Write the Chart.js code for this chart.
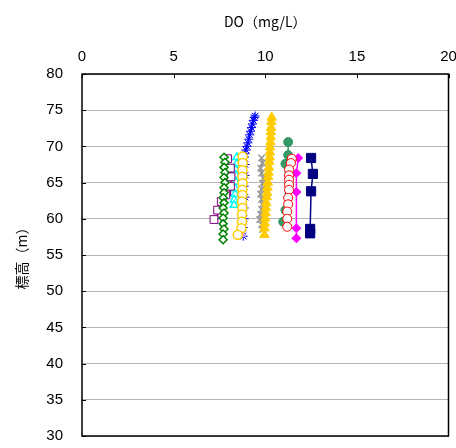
<!DOCTYPE html>
<html>
<head>
<meta charset="utf-8">
<script src="https://cdn.jsdelivr.net/npm/chart.js@4"></script>
<style>
  html, body { margin: 0; padding: 0; background: #fff; }
  #wrap { width: 456px; height: 448px; }
</style>
</head>
<body>
<div id="wrap"><canvas id="do-chart" width="456" height="448"></canvas></div>
<script>
// DO profiles (x = DO mg/L, y = elevation m), one pair of arrays per survey
const navyDO   = [12.5, 12.6, 12.5, 12.45, 12.45];
const navyEl   = [68.4, 66.2, 63.8, 58.6, 58.0];

const pinkDO   = [11.8, 11.7, 11.7, 11.7, 11.7];
const pinkEl   = [68.4, 66.3, 63.7, 58.7, 57.3];

const redDO    = [11.45, 11.4, 11.3, 11.3, 11.3, 11.3, 11.3, 11.25, 11.25, 11.2, 11.2, 11.2];
const redEl    = [68.3, 67.7, 66.8, 66.0, 65.4, 64.7, 64.0, 62.9, 62.0, 61.0, 60.0, 58.9];

const seaDO    = [11.25, 11.25, 11.1, 11.1, 10.98];
const seaEl    = [70.6, 68.8, 67.6, 61.2, 59.6];

const goldTriDO = [10.35, 10.33, 10.32, 10.3, 10.3, 10.28, 10.26, 10.25, 10.24, 10.22, 10.2, 10.18, 10.16,
                   10.14, 10.12, 10.1, 10.08, 10.05, 10.04, 10.02, 10.0, 9.98, 9.96, 9.95];
const goldTriEl = [74.0, 73.4, 72.6, 72.0, 71.3, 70.6, 69.9, 69.2, 68.5, 67.9, 67.1, 66.4, 65.8,
                   65.0, 64.3, 63.6, 63.0, 62.2, 61.5, 60.8, 60.1, 59.4, 58.7, 57.8];

const grayDO   = [9.8, 9.85, 9.75, 9.8, 9.9, 9.85, 9.8, 9.75, 9.8, 9.85, 9.8, 9.75, 9.7, 9.8, 9.85];
const grayEl   = [68.4, 67.7, 67.0, 66.3, 65.6, 64.9, 64.1, 63.4, 62.7, 62.0, 61.3, 60.6, 59.9, 59.2, 58.5];

const blueDO   = [9.45, 9.4, 9.35, 9.3, 9.25, 9.2, 9.15, 9.1, 9.05, 9.0, 8.95, 8.9, 8.85,
                  8.9, 8.9, 8.85, 8.9, 8.85, 8.85, 8.8, 8.8];
const blueEl   = [74.2, 74.0, 73.6, 73.1, 72.6, 72.1, 71.6, 71.0, 70.5, 70.0, 69.5, 69.0, 68.5,
                  67.5, 66.0, 64.5, 63.0, 61.5, 60.0, 58.8, 57.6];

const lilacDO  = [8.8, 8.8, 8.8];
const lilacEl  = [68.5, 63.0, 57.5];

const goldRingDO = [8.77, 8.77, 8.75, 8.75, 8.77, 8.75, 8.75, 8.73, 8.75, 8.73, 8.73, 8.7, 8.5];
const goldRingEl = [68.6, 67.7, 66.7, 65.8, 64.9, 64.0, 63.3, 62.4, 61.5, 60.6, 59.6, 58.7, 57.8];

const cyanDO   = [8.45, 8.45, 8.4, 8.4, 8.4, 8.35, 8.35, 8.3, 8.3];
const cyanEl   = [68.5, 67.6, 66.8, 66.0, 65.1, 64.2, 63.4, 62.6, 61.9];

const greenDO  = [7.75, 7.8, 7.75, 7.8, 7.75, 7.8, 7.75, 7.75, 7.7, 7.75, 7.7, 7.75, 7.7, 7.7, 7.75, 7.7, 7.7];
const greenEl  = [68.5, 67.8, 67.1, 66.4, 65.7, 65.0, 64.3, 63.6, 62.9, 62.2, 61.5, 60.8, 60.1, 59.3, 58.6, 57.9, 57.1];

const purpleDO = [7.95, 8.1, 8.13, 8.1, 7.85, 7.6, 7.4, 7.2];
const purpleEl = [68.3, 67.0, 65.8, 64.5, 63.3, 62.4, 61.2, 59.9];

// axis ranges and tick labels
const doTicks = [0, 5, 10, 15, 20];
const elTicks = [30, 35, 40, 45, 50, 55, 60, 65, 70, 75, 80];

const pts = (xs, ys) => xs.map((x, i) => ({ x: x, y: ys[i] }));

// first dataset ends up on top when drawn
function series(xs, ys, color, style, radius, opts = {}) {
    return Object.assign({
        data: pts(xs, ys),
        borderColor: color,
        backgroundColor: color,
        pointBorderColor: color,
        pointBackgroundColor: color,
        pointStyle: style,
        pointRadius: radius,
        pointBorderWidth: 1,
        borderWidth: 1.5,
        showLine: true,
        tension: 0
    }, opts);
}

const datasets = [
    series(redDO, redEl, '#FF0000', 'circle', 4.5, { pointBackgroundColor: '#fff' }),
    series(navyDO, navyEl, '#000080', 'rect', 6.5),
    series(pinkDO, pinkEl, '#FF00FF', 'rectRot', 4.5),
    series(seaDO, seaEl, '#339966', 'circle', 4.5),
    series(goldTriDO, goldTriEl, '#FFCC00', 'triangle', 5.5),
    series(grayDO, grayEl, '#969696', 'crossRot', 4.5, { pointBorderWidth: 1.5 }),
    series(goldRingDO, goldRingEl, '#FFCC00', 'circle', 4.5, { pointBackgroundColor: '#fff', pointBorderWidth: 1.5 }),
    series(lilacDO, lilacEl, '#CC99FF', 'circle', 0, { borderWidth: 4 }),
    series(blueDO, blueEl, '#0000FF', 'star', 4.5, { borderWidth: 1 }),
    series(greenDO, greenEl, '#008000', 'rectRot', 4, { pointBackgroundColor: '#fff', pointBorderWidth: 1.5 }),
    series(purpleDO, purpleEl, '#800080', 'rect', 5.5, { pointBackgroundColor: '#fff', stepped: 'after' }),
    series(cyanDO, cyanEl, '#00FFFF', 'triangle', 4.5, { pointBackgroundColor: '#fff', pointBorderWidth: 1.5 })
];

// plot frame plus short inward tick marks
const framePlugin = {
    id: 'frame',
    afterDraw(chart) {
        const { ctx, chartArea: a, scales } = chart;
        ctx.save();
        ctx.strokeStyle = '#000';
        ctx.lineWidth = 1.5;
        ctx.strokeRect(a.left, a.top, a.right - a.left, a.bottom - a.top);
        ctx.lineWidth = 1;
        ctx.beginPath();
        doTicks.forEach(v => {
            const px = Math.round(scales.x.getPixelForValue(v)) + 0.5;
            ctx.moveTo(px, a.top);
            ctx.lineTo(px, a.top + 4);
        });
        elTicks.forEach(v => {
            const py = Math.round(scales.y.getPixelForValue(v)) + 0.5;
            ctx.moveTo(a.left, py);
            ctx.lineTo(a.left + 4, py);
        });
        ctx.stroke();
        ctx.restore();
    }
};

const tickFont = { family: "'Liberation Sans', Arial, sans-serif", size: 15 };
const titleFont = { family: "'Noto Sans CJK JP', sans-serif", size: 14 };

new Chart(document.getElementById('do-chart'), {
    type: 'scatter',
    data: { datasets },
    plugins: [framePlugin],
    options: {
        responsive: false,
        animation: false,
        layout: { padding: { left: 0, top: 0, right: 6, bottom: 12 } },
        plugins: { legend: { display: false }, tooltip: { enabled: false } },
        scales: {
            x: {
                type: 'linear',
                position: 'top',
                min: 0,
                max: 20,
                grid: { display: false, drawTicks: false },
                border: { display: false },
                ticks: {
                    stepSize: 5,
                    color: '#000',
                    font: tickFont,
                    padding: 8,
                    maxRotation: 0
                },
                title: {
                    display: true,
                    text: 'DO（mg/L）',
                    color: '#000',
                    font: titleFont,
                    padding: { top: 13, bottom: 0 }
                },
                afterFit(scale) {
                    scale.height = 74;
                    scale.paddingLeft = 0;
                    scale.paddingRight = 0;
                }
            },
            y: {
                type: 'linear',
                position: 'left',
                min: 30,
                max: 80,
                grid: { color: '#B4B4B4', lineWidth: 1, drawTicks: false },
                border: { display: false },
                ticks: {
                    stepSize: 5,
                    color: '#000',
                    font: tickFont,
                    padding: 19
                },
                title: {
                    display: true,
                    text: '標高（m）',
                    color: '#000',
                    font: titleFont,
                    padding: { top: 13, bottom: 0 }
                },
                afterFit(scale) {
                    scale.width = 82;
                    scale.paddingTop = 0;
                    scale.paddingBottom = 0;
                }
            }
        }
    }
});
</script>
</body>
</html>
